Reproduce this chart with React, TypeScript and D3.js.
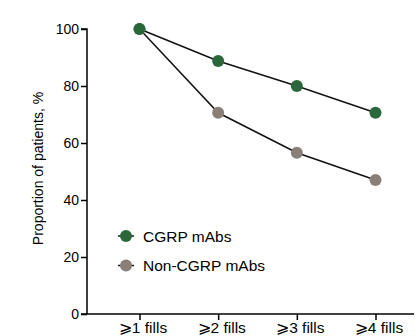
import React, { useRef, useEffect } from "react";
import * as d3 from "d3";

const categories = ["⩾1 fills", "⩾2 fills", "⩾3 fills", "⩾4 fills"];
const cgrpValues = [100, 88.8, 80, 70.6];
const nonCgrpValues = [100, 70.6, 56.6, 47];
const yTicks = [0, 20, 40, 60, 80, 100];
const seriesNames = ["CGRP mAbs", "Non-CGRP mAbs"];
const seriesColors = ["#2a683b", "#8a7f77"];

const App: React.FC = () => {
    const svgRef = useRef<SVGSVGElement | null>(null);

    useEffect(() => {
        const width = 420;
        const height = 336;
        const svg = d3.select(svgRef.current);
        svg.selectAll("*").remove();
        svg.attr("width", width).attr("height", height).style("font-family", "Liberation Sans, Arial, sans-serif");

        const axisX = 87;
        const axisY = 314;

        const xScale = d3.scalePoint<string>().domain(categories).range([139.5, 375.5]);
        const yScale = d3.scaleLinear().domain([0, 100]).range([axisY, 29]);

        // y axis
        const yAxis = d3.axisLeft(yScale).tickValues(yTicks).tickSize(6).tickPadding(2);
        const gy = svg.append("g").attr("transform", `translate(${axisX},0)`).call(yAxis);
        gy.select(".domain").attr("d", `M-6,${yScale(100)}H0V${axisY}`).attr("stroke", "#000").attr("stroke-width", 1.5);
        gy.selectAll(".tick line").attr("stroke", "#000").attr("stroke-width", 1.5);
        gy.selectAll(".tick text").attr("font-size", 14).attr("fill", "#000").attr("font-family", "Liberation Sans, Arial, sans-serif");

        // x axis
        const xAxis = d3.axisBottom(xScale).tickSize(6).tickPadding(2);
        const gx = svg.append("g").attr("transform", `translate(0,${axisY})`).call(xAxis);
        gx.select(".domain").attr("d", `M${axisX - 6},0H414`).attr("stroke", "#000").attr("stroke-width", 1.5);
        gx.selectAll(".tick line").attr("stroke", "#000").attr("stroke-width", 1.5);
        gx.selectAll(".tick text").attr("font-size", 15.5).attr("fill", "#000").attr("dx", 3).attr("font-family", "Liberation Sans, Arial, sans-serif");

        // y label
        svg.append("text")
            .attr("transform", `translate(43,${(axisY + 29) / 2 - 3}) rotate(-90)`)
            .attr("text-anchor", "middle")
            .attr("font-size", 14)
            .text("Proportion of patients, %");

        const line = d3
            .line<number>()
            .x((_, i) => xScale(categories[i]) as number)
            .y((d) => yScale(d));

        const allSeries = [cgrpValues, nonCgrpValues];
        // draw lines first
        allSeries.forEach((vals) => {
            svg.append("path").attr("d", line(vals)).attr("fill", "none").attr("stroke", "#111").attr("stroke-width", 1.5);
        });
        // markers (grey first so green sits on top at 100)
        [1, 0].forEach((s) => {
            svg.append("g")
                .selectAll("circle")
                .data(allSeries[s])
                .enter()
                .append("circle")
                .attr("cx", (_, i) => xScale(categories[i]) as number)
                .attr("cy", (d) => yScale(d))
                .attr("r", 6)
                .attr("fill", seriesColors[s]);
        });

        // legend
        seriesNames.forEach((name, i) => {
            const ly = 236 + i * 29.5;
            svg.append("line").attr("x1", 118).attr("x2", 134).attr("y1", ly).attr("y2", ly).attr("stroke", "#111").attr("stroke-width", 1.5);
            svg.append("circle").attr("cx", 126).attr("cy", ly).attr("r", 6).attr("fill", seriesColors[i]);
            svg.append("text").attr("x", 143).attr("y", ly + 5.5).attr("font-size", 15.5).text(name);
        });
    }, []);

    return <svg ref={svgRef} style={{ position: "absolute", left: 0, top: 0 }} />;
};

export default App;
